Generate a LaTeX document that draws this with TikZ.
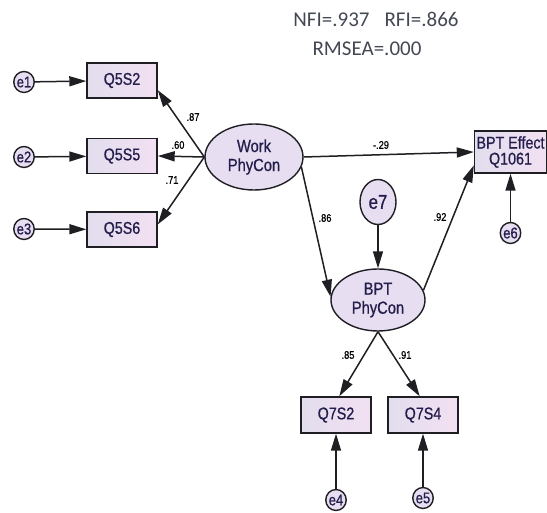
\documentclass[tikz,border=0pt]{standalone}
\usepackage{fontspec}
\setmainfont{Liberation Sans}
\newfontfamily\narrowfont[FakeStretch=0.84,FakeBold=0.8]{Liberation Sans}
\newfontfamily\titlefont{Carlito}
\usetikzlibrary{arrows.meta,shapes.geometric}
\definecolor{boxL}{RGB}{226,222,238}
\definecolor{boxR}{RGB}{242,224,242}
\definecolor{ellfill}{RGB}{232,222,242}
\definecolor{linecol}{RGB}{30,30,35}
\definecolor{txtcol}{RGB}{35,30,75}
\definecolor{titlecol}{RGB}{68,72,82}
\tikzset{
  obs/.style={draw=linecol,line width=1.4pt,left color=boxL,right color=boxR,minimum width=70pt,minimum height=35pt,inner sep=1pt,text=txtcol,font=\narrowfont\fontsize{17}{16}\selectfont},
  lat/.style={ellipse,draw=linecol,line width=1.4pt,fill=ellfill,inner sep=0pt,text=txtcol,font=\narrowfont\fontsize{17.5}{19}\selectfont,align=center},
  err/.style={ellipse,draw=linecol,line width=1.4pt,fill=ellfill,inner sep=0pt,minimum width=17pt,minimum height=21pt,text=txtcol,font=\narrowfont\fontsize{15.5}{15}\selectfont},
  arr/.style={draw=linecol,line width=1.5pt,-{Triangle[length=17pt,width=10pt]}},
  coef/.style={font=\narrowfont\fontsize{11}{11}\selectfont,text=black,inner sep=0pt}
}
\begin{document}
\begin{tikzpicture}[x=1pt,y=-1pt]
\useasboundingbox (0,0) rectangle (547,513);
% title
\node[font=\titlefont\fontsize{21}{22}\selectfont,text=titlecol] (t1) at (376,19) {NFI=.937\hspace{15pt}RFI=.866};
\node[font=\titlefont\fontsize{21}{22}\selectfont,text=titlecol] (t2) at (367,49) {RMSEA=.000};
% observed
\node[obs] (q52) at (122,80.5) {Q5S2};
\node[obs] (q55) at (122,156) {Q5S5};
\node[obs] (q56) at (122,229.5) {Q5S6};
\node[obs,minimum width=72pt,minimum height=42pt,align=center,font=\narrowfont\fontsize{17}{16}\selectfont] (eff) at (510.5,152) {BPT Effect\\Q1061};
\node[obs,minimum height=36pt] (q72) at (336,415) {Q7S2};
\node[obs,minimum height=36pt] (q74) at (423,415) {Q7S4};
% latent
\node[lat,minimum width=98pt,minimum height=66pt] (work) at (254,157) {Work\\PhyCon};
\node[lat,minimum width=94pt,minimum height=62pt] (bpt) at (378,300) {BPT\\PhyCon};
% errors
\node[err] (e1) at (24,82) {e1};
\node[err] (e2) at (24,157) {e2};
\node[err] (e3) at (24,229) {e3};
\node[err,minimum width=36pt,minimum height=45pt,font=\narrowfont\fontsize{20}{20}\selectfont] (e7) at (378,202) {e7};
\node[err] (e6) at (510.5,233) {e6};
\node[err] (e4) at (336,500) {e4};
\node[err] (e5) at (423,498) {e5};
% arrows
\draw[arr] (e1) -- (q52);
\draw[arr] (e2) -- (q55);
\draw[arr] (e3) -- (q56);
\draw[arr] (work.west) -- (q52.-15);
\draw[arr] (work.west) -- (q55.east);
\draw[arr] (work.west) -- (q56.8);
\draw[arr] (work.east) -- (eff.west);
\draw[arr] (work.-12) -- (bpt.176);
\draw[arr] (e7) -- (bpt);
\draw[arr] (bpt.12) -- (eff.200);
\draw[arr] (e6) -- (eff);
\draw[arr] (bpt.south) -- (q72.80);
\draw[arr] (bpt.south) -- (q74.100);
\draw[arr] (e4) -- (q72);
\draw[arr] (e5) -- (q74);
% coefficients
\node[coef] (c1) at (193,117) {.87};
\node[coef] (c2) at (178,145) {.60};
\node[coef] (c3) at (172,180) {.71};
\node[coef] (c4) at (381,145) {-.29};
\node[coef] (c5) at (325,218) {.86};
\node[coef] (c6) at (440,217) {.92};
\node[coef] (c7) at (348,355) {.85};
\node[coef] (c8) at (405,355) {.91};
\end{tikzpicture}
\end{document}
